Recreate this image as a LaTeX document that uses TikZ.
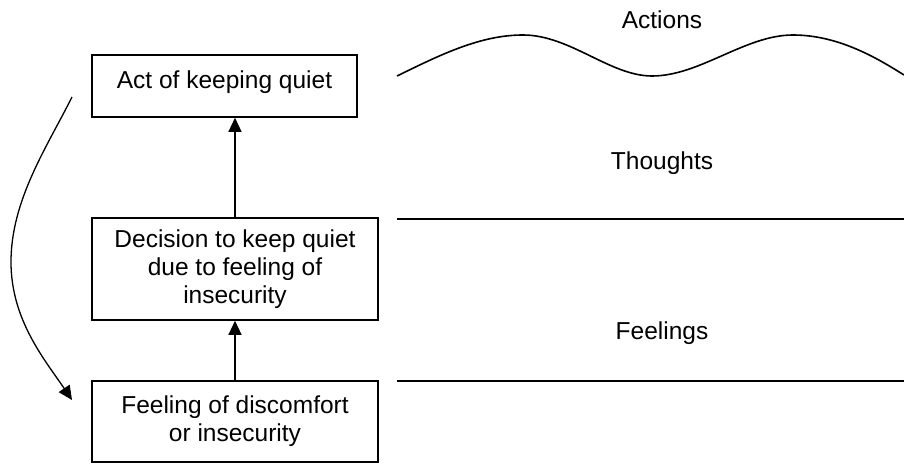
\documentclass[tikz,border=0pt]{standalone}
\usepackage{fontspec}
\setmainfont{Liberation Sans}
\usetikzlibrary{arrows.meta}
\begin{document}
\begin{tikzpicture}[x=1pt, y=-1pt, line width=1.6pt,
  txt/.style={font=\fontsize{24.5}{28}\selectfont},
  box/.style={txt, draw, line width=1.6pt, align=center, inner sep=0pt},
  tip/.style={line width=1.3pt, -{Triangle[length=14pt,width=13pt]}}]
\useasboundingbox (0,0) rectangle (904,465);

% the three stages, bottom to top
\node[box, minimum width=265pt, minimum height=62pt,
      text height=17.5pt, text depth=13pt] (act) at (224.5,86) {Act of keeping quiet};
\node[box, minimum width=286pt, minimum height=102pt] (dec) at (235,269)
  {Decision to keep quiet\\due to feeling of\\insecurity};
\node[box, minimum width=286pt, minimum height=81pt] (feel) at (235,421.5)
  {Feeling of discomfort\\or insecurity};

% upward steps
\draw[tip] (dec.north) -- (dec.north |- act.south);
\draw[tip] (feel.north) -- (dec.south);

% feedback loop on the left
\coordinate (loopstart) at (72,97);
\coordinate (loopend) at (72,400);
\draw[tip] (loopstart) .. controls (47,147) and (11,200) .. (11,262)
  .. controls (11,320) and (45,360) .. (loopend);

% level boundaries on the right
\draw (397,76) .. controls (440,55) and (480,35) .. (523,35)
  .. controls (570,35) and (610,76) .. (652,76)
  .. controls (700,76) and (745,35) .. (793,35)
  .. controls (840,35) and (880,60) .. (904,75);
\draw (397,219) -- (904,219);
\draw (397,381) -- (904,381);

% level labels
\node[txt] (actions) at (662,20) {Actions};
\node[txt] (thoughts) at (662,163) {Thoughts};
\node[txt] (feelings) at (662,333) {Feelings};
\end{tikzpicture}
\end{document}
